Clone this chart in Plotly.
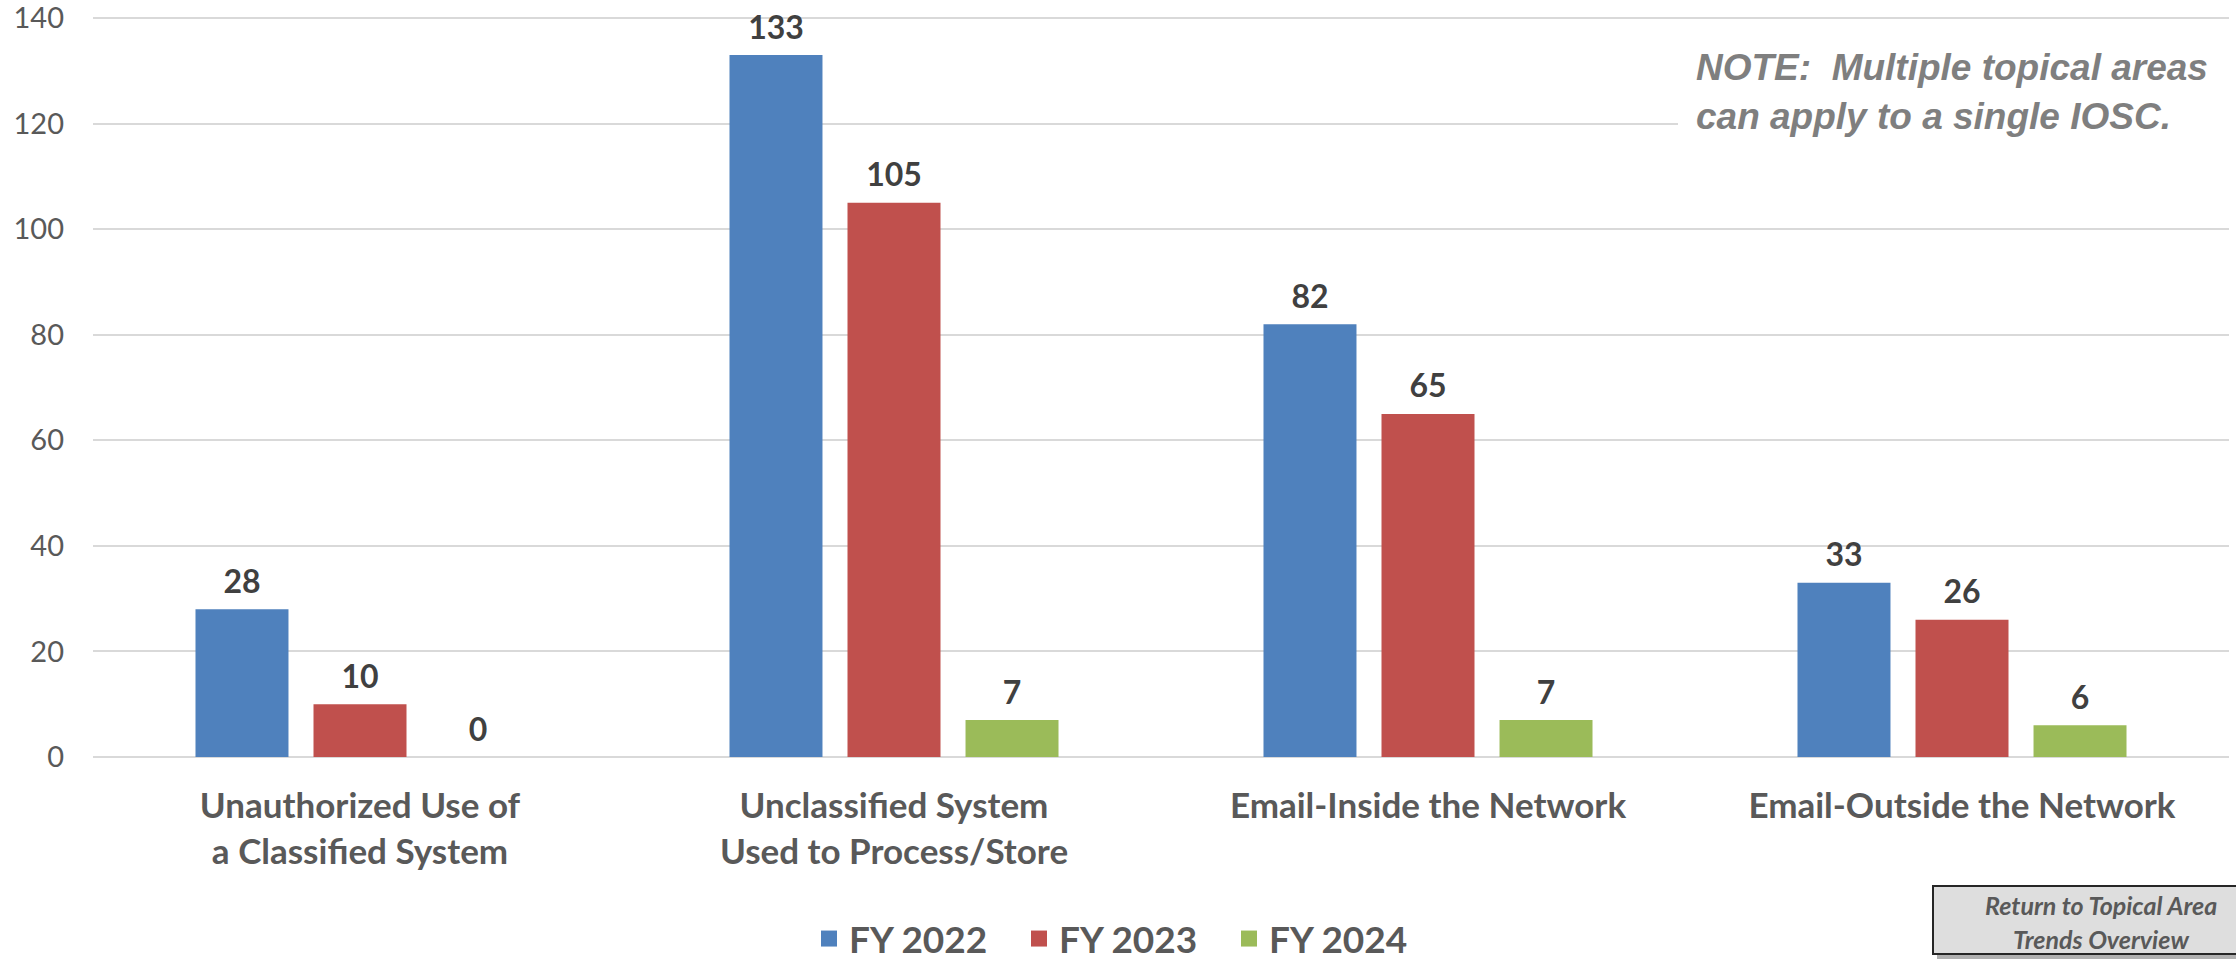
import plotly.graph_objects as go

categories = ["Unauthorized Use of<br>a Classified System",
              "Unclassified System<br>Used to Process/Store",
              "Email-Inside the Network",
              "Email-Outside the Network"]
series_names = ["FY 2022", "FY 2023", "FY 2024"]
fy2022 = [28, 133, 82, 33]
fy2023 = [10, 105, 65, 26]
fy2024 = [0, 7, 7, 6]
colors = ["#4F81BD", "#C0504D", "#9BBB59"]
y_ticks = [0, 20, 40, 60, 80, 100, 120, 140]

W, H = 2236, 962
L, R, T, B = 93, 7, 17, 205
pw, ph = W - L - R, H - T - B

def px_x(x):
    return (x - L) / pw

def px_y(y):
    return (H - B - y) / ph

FONT = "Lato"
GAP = 0.337
fig = go.Figure()
for name, vals, col in zip(series_names, [fy2022, fy2023, fy2024], colors):
    fig.add_trace(go.Bar(
        x=categories, y=vals, name=name, marker=dict(color=col, line=dict(width=0)),
        hoverinfo="skip", offsetgroup=name, showlegend=False,
    ))
for name, vals in zip(series_names, [fy2022, fy2023, fy2024]):
    fig.add_trace(go.Scatter(
        x=categories, y=vals, mode="markers+text", text=vals, textposition="top center",
        marker=dict(size=12, opacity=0), showlegend=False, hoverinfo="skip",
        cliponaxis=False, offsetgroup=name,
        textfont=dict(family=FONT, size=32, color="#404040", weight="bold"),
    ))
# legend entries (square swatches)
for name, col in zip(series_names, colors):
    fig.add_trace(go.Scatter(
        x=[None], y=[None], mode="markers", name=name,
        marker=dict(symbol="square", size=24, color=col), showlegend=True,
    ))

fig.update_layout(
    width=W, height=H,
    margin=dict(l=L, r=R, t=T, b=B, autoexpand=False),
    paper_bgcolor="white", plot_bgcolor="white",
    barmode="group", bargap=GAP, bargroupgap=0.212,
    scattermode="group", scattergap=GAP,
    font=dict(family=FONT, color="#595959"),
    showlegend=True,
    legend=dict(orientation="h", x=px_x(1124), xanchor="center", y=px_y(939), yanchor="middle",
                font=dict(family=FONT, size=37, color="#595959", weight="bold"),
                itemclick=False, itemsizing="trace", tracegroupgap=0,
                entrywidth=165, entrywidthmode="pixels"),
    xaxis=dict(showgrid=False, showline=False, ticks="", ticklabelstandoff=25,
               tickfont=dict(family=FONT, size=35, color="#595959", weight="bold")),
    yaxis=dict(range=[0, 140.2], tickvals=y_ticks, showgrid=True, gridcolor="#D9D9D9",
               gridwidth=2, zeroline=True, zerolinecolor="#D9D9D9", zerolinewidth=2,
               showline=False, ticks="", ticklabelstandoff=28, ticklabeloverflow="allow",
               tickfont=dict(family=FONT, size=29, color="#595959")),
)

# white panel behind the note (hides the gridline there)
fig.add_shape(type="rect", xref="paper", yref="paper", x0=px_x(1678), x1=px_x(2240),
              y0=px_y(145), y1=px_y(40), fillcolor="white", line=dict(width=0), layer="above")
note_font = dict(family="Liberation Sans", size=37, color="#7F7F7F")
fig.add_annotation(xref="paper", yref="paper", x=px_x(1694), y=px_y(68),
                   xanchor="left", yanchor="middle", align="left", showarrow=False,
                   text="<b><i>NOTE:&nbsp; Multiple topical areas</i></b>", font=note_font)
fig.add_annotation(xref="paper", yref="paper", x=px_x(1694), y=px_y(117),
                   xanchor="left", yanchor="middle", align="left", showarrow=False,
                   text="<b><i>can apply to a single IOSC.</i></b>", font=note_font)

# Return button
fig.add_shape(type="rect", xref="paper", yref="paper", x0=px_x(1937), x1=px_x(2270),
              y0=px_y(959), y1=px_y(891), fillcolor="#B0B0B0", line=dict(width=0), layer="above")
fig.add_shape(type="rect", xref="paper", yref="paper", x0=px_x(1933), x1=px_x(2265),
              y0=px_y(954), y1=px_y(886), fillcolor="#DEDEDE",
              line=dict(color="#262626", width=2), layer="above")
btn_font = dict(family=FONT, size=25, color="#595959")
fig.add_annotation(xref="paper", yref="paper", x=px_x(2101), y=px_y(905),
                   xanchor="center", yanchor="middle", showarrow=False,
                   text="<b><i>Return to Topical Area</i></b>", font=btn_font)
fig.add_annotation(xref="paper", yref="paper", x=px_x(2101), y=px_y(939),
                   xanchor="center", yanchor="middle", showarrow=False,
                   text="<b><i>Trends Overview</i></b>", font=btn_font)

fig.write_html("out.html", config={"displayModeBar": False},
               post_script="document.body.style.margin='0';document.body.style.overflow='hidden';")
